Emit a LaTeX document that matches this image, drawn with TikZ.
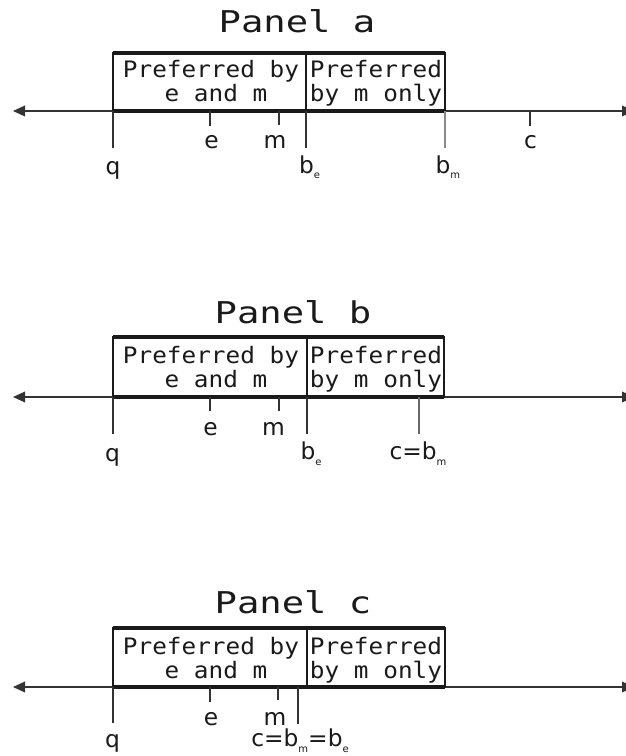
\documentclass[tikz,border=0pt]{standalone}
\usepackage{fontspec}
\usetikzlibrary{arrows.meta}
\newfontfamily\boxfont[FakeStretch=1.075]{DejaVu Sans Mono}
\newfontfamily\titlefont[FakeStretch=1.24]{DejaVu Sans Mono}
\newfontfamily\lblfont{DejaVu Sans}
\newcommand\mysub[1]{\raisebox{-4.5pt}{\fontsize{7.5}{8}\selectfont #1}}
\definecolor{axisgray}{HTML}{333333}
\definecolor{lightgray}{HTML}{8A8A8A}
\definecolor{midgray}{HTML}{6A6A6A}
\definecolor{txt}{HTML}{1A1A1A}
\begin{document}
\begin{tikzpicture}[x=0.75pt, y=-0.75pt,
  axisline/.style={draw=axisgray, line width=1pt, {Triangle[length=9pt,width=8pt]}-{Triangle[length=9pt,width=8pt]}},
  tickline/.style={draw=axisgray, line width=1pt},
  thickline/.style={draw=txt, line width=2.3pt},
  boxline/.style={draw=txt, line width=1pt},
  titletxt/.style={font=\titlefont\fontsize{22.5}{24}\selectfont, text=txt, inner sep=0pt, anchor=base},
  boxtxt/.style={font=\boxfont\fontsize{17}{18}\selectfont, text=txt, inner sep=0pt, anchor=base},
  lbl/.style={font=\lblfont\fontsize{17.5}{18}\selectfont, text=txt, inner sep=0pt, anchor=base}]
\useasboundingbox (0,0) rectangle (625,756);
\fill[white] (0,0) rectangle (625,756);

% ---------------- Panel a ----------------
\begin{scope}[shift={(0,111)}]
  \node[titletxt] (ta) at (297,-78) {Panel a};
  \coordinate (aL) at (13,0); \coordinate (aR) at (634,0);
  \draw[axisline] (aL) -- (aR);
  \coordinate (aB1) at (113,-58); \coordinate (aB2) at (306,0);
  \coordinate (aB3) at (445,-58); \coordinate (aD) at (306,-58);
  \draw[boxline] (aB1) rectangle (aB2);
  \draw[boxline] (aD) rectangle (445,0);
  \draw[thickline] (aB1) -- (aB3);
  \coordinate (aBL) at (113,0); \coordinate (aBR) at (445,0);
  \draw[thickline] (aBL) -- (aBR);
  \node[boxtxt] (a11) at (211,-33) {Preferred by};
  \node[boxtxt] (a12) at (216,-9) {e and m};
  \node[boxtxt] (a21) at (376,-33) {Preferred};
  \node[boxtxt] (a22) at (376,-9) {by m only};
  % ticks
  \coordinate (aq0) at (113,0);  \coordinate (aq1) at (113,37);
  \coordinate (ae0) at (210,0);  \coordinate (ae1) at (210,15);
  \coordinate (am0) at (279,0);  \coordinate (am1) at (279,14);
  \coordinate (abe0) at (306,0); \coordinate (abe1) at (306,37);
  \coordinate (abm0) at (445,0); \coordinate (abm1) at (445,37);
  \coordinate (ac0) at (530,0);  \coordinate (ac1) at (530,15);
  \draw[tickline] (aq0) -- (aq1);
  \draw[tickline] (ae0) -- (ae1);
  \draw[tickline] (am0) -- (am1);
  \draw[tickline] (abe0) -- (abe1);
  \draw[tickline, draw=lightgray] (abm0) -- (abm1);
  \draw[tickline] (ac0) -- (ac1);
  \node[lbl] (aql) at (113,64) {q};
  \node[lbl] (ael) at (211.5,38) {e};
  \node[lbl] (aml) at (275,38) {m};
  \node[lbl] (abel) at (306.5,62) {b\rlap{\mysub{e}}};
  \node[lbl] (abml) at (443,62) {b\rlap{\mysub{m}}};
  \node[lbl] (acl) at (530.5,38) {c};
\end{scope}

% ---------------- Panel b ----------------
\begin{scope}[shift={(0,397)}]
  \node[titletxt] (tb) at (293,-74) {Panel b};
  \coordinate (bL) at (13,0); \coordinate (bR) at (634,0);
  \draw[axisline] (bL) -- (bR);
  \coordinate (bB1) at (113,-60); \coordinate (bB2) at (307,0);
  \coordinate (bB3) at (444,-60); \coordinate (bD) at (307,-60);
  \draw[boxline] (bB1) rectangle (bB2);
  \draw[boxline] (bD) rectangle (444,0);
  \draw[thickline] (bB1) -- (bB3);
  \coordinate (bBL) at (113,0); \coordinate (bBR) at (444,0);
  \draw[thickline] (bBL) -- (bBR);
  \coordinate (bS0) at (113,-19);
  \draw[boxline, line width=1.6pt] (bS0) -- (bBL);
  \node[boxtxt] (b11) at (211,-34) {Preferred by};
  \node[boxtxt] (b12) at (216,-10) {e and m};
  \node[boxtxt] (b21) at (376,-34) {Preferred};
  \node[boxtxt] (b22) at (376,-10) {by m only};
  \coordinate (bq0) at (113,0);  \coordinate (bq1) at (113,37);
  \coordinate (be0) at (210,0);  \coordinate (be1) at (210,14);
  \coordinate (bm0) at (279,0);  \coordinate (bm1) at (279,14);
  \coordinate (bbe0) at (307,0); \coordinate (bbe1) at (307,37);
  \coordinate (bc0) at (419,0);  \coordinate (bc1) at (419,37);
  \draw[tickline] (bq0) -- (bq1);
  \draw[tickline] (be0) -- (be1);
  \draw[tickline] (bm0) -- (bm1);
  \draw[tickline] (bbe0) -- (bbe1);
  \draw[tickline, draw=midgray] (bc0) -- (bc1);
  \node[lbl] (bql) at (112.5,64) {q};
  \node[lbl] (bel) at (210.5,38) {e};
  \node[lbl] (bml) at (273.5,38) {m};
  \node[lbl] (bbel) at (308,62) {b\rlap{\mysub{e}}};
  \node[lbl] (bcl) at (418,62) {c=b\mysub{m}};
\end{scope}

% ---------------- Panel c ----------------
\begin{scope}[shift={(0,687)}]
  \node[titletxt] (tc) at (293,-74) {Panel c};
  \coordinate (cL) at (13,0); \coordinate (cR) at (634,0);
  \draw[axisline] (cL) -- (cR);
  \coordinate (cB1) at (113,-59); \coordinate (cB2) at (307,0);
  \coordinate (cB3) at (445,-59); \coordinate (cD) at (307,-59);
  \draw[boxline] (cB1) rectangle (cB2);
  \draw[boxline] (cD) rectangle (445,0);
  \draw[thickline] (cB1) -- (cB3);
  \coordinate (cBL) at (113,0); \coordinate (cBR) at (445,0);
  \draw[thickline] (cBL) -- (cBR);
  \node[boxtxt] (c11) at (211,-33) {Preferred by};
  \node[boxtxt] (c12) at (216,-9) {e and m};
  \node[boxtxt] (c21) at (376,-33) {Preferred};
  \node[boxtxt] (c22) at (376,-9) {by m only};
  \coordinate (cq0) at (113,0);  \coordinate (cq1) at (113,36);
  \coordinate (ce0) at (210,0);  \coordinate (ce1) at (210,15);
  \coordinate (cm0) at (278,0);  \coordinate (cm1) at (278,13);
  \coordinate (cc0) at (298,0);  \coordinate (cc1) at (298,37);
  \draw[tickline] (cq0) -- (cq1);
  \draw[tickline] (ce0) -- (ce1);
  \draw[tickline] (cm0) -- (cm1);
  \draw[tickline] (cc0) -- (cc1);
  \node[lbl] (cql) at (112.5,60) {q};
  \node[lbl] (cel) at (211,38) {e};
  \node[lbl] (cml) at (275,38) {m};
  \node[lbl] (ccl) at (300,59) {c=b\mysub{m}=b\mysub{e}};
\end{scope}
\end{tikzpicture}
\end{document}
